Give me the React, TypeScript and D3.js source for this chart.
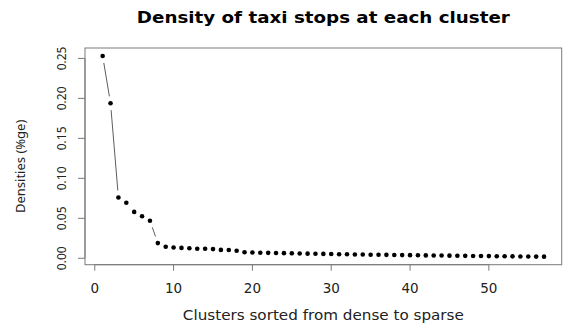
import React from 'react';
import { scaleLinear, extent } from 'd3';

// densities per cluster, sorted dense -> sparse
const densities = [
  0.253, 0.194, 0.076, 0.0695, 0.058, 0.0525, 0.047, 0.019, 0.0145, 0.0135,
  0.013, 0.0125, 0.012, 0.012, 0.0115, 0.0105, 0.0103, 0.0095, 0.0075, 0.0072,
  0.007, 0.0068, 0.0066, 0.0064, 0.0062, 0.006, 0.0058, 0.0056, 0.0055, 0.0053,
  0.0051, 0.005, 0.0048, 0.0047, 0.0045, 0.0044, 0.0043, 0.0041, 0.004, 0.0039,
  0.0037, 0.0036, 0.0035, 0.0034, 0.0033, 0.0031, 0.003, 0.0029, 0.0028, 0.0027,
  0.0026, 0.0025, 0.0024, 0.0023, 0.0022, 0.0021, 0.002,
];
const clusters = densities.map((_, i) => i + 1);
const xTicks = [0, 10, 20, 30, 40, 50];
const yTicks = [0, 0.05, 0.1, 0.15, 0.2, 0.25];

const W = 567;
const H = 325;
const left = 85, right = 561.7, top = 48, bottom = 264.7;

// R style 4% axis extension
const pad = (e: [number, number]) => {
  const d = (e[1] - e[0]) * 0.04;
  return [e[0] - d, e[1] + d];
};

export default function App() {
  const x = scaleLinear().domain(pad(extent(clusters) as [number, number])).range([left, right]);
  const y = scaleLinear().domain(pad(extent(densities) as [number, number])).range([bottom, top]);

  const pts = densities.map((d, i) => [x(clusters[i]), y(d)]);
  const gap = 7;
  const segs: number[][] = [];
  for (let i = 1; i < pts.length; i++) {
    const [x1, y1] = pts[i - 1];
    const [x2, y2] = pts[i];
    const dist = Math.hypot(x2 - x1, y2 - y1);
    if (dist <= 2 * gap) continue;
    const ux = (x2 - x1) / dist, uy = (y2 - y1) / dist;
    segs.push([x1 + ux * gap, y1 + uy * gap, x2 - ux * gap, y2 - uy * gap]);
  }

  const grey = '#7a7a7a';
  const font = 'DejaVu Sans, sans-serif';
  const yFont = 'Noto Sans, sans-serif';

  return (
    <svg width={W} height={H} style={{ position: 'absolute', left: 0, top: 0, background: '#fff' }}>
      <text x={(left + right) / 2} y={23} textAnchor="middle" fontFamily={font}
        fontWeight="bold" fontSize={15.5} fill="#000" textLength={373} lengthAdjust="spacingAndGlyphs">
        Density of taxi stops at each cluster
      </text>

      <rect x={left} y={top} width={right - left} height={bottom - top}
        fill="none" stroke={grey} strokeWidth={1} />

      {/* x axis */}
      <line x1={x(0)} x2={x(50)} y1={bottom} y2={bottom} stroke={grey} />
      {xTicks.map(t => (
        <g key={t}>
          <line x1={x(t)} x2={x(t)} y1={bottom} y2={bottom + 6} stroke={grey} />
          <text x={x(t)} y={293} textAnchor="middle" fontFamily={font} fontSize={13.5} fill="#222">{t}</text>
        </g>
      ))}
      <text x={(left + right) / 2} y={320} textAnchor="middle" fontFamily={font} fontSize={13.5} fill="#222"
        textLength={281} lengthAdjust="spacingAndGlyphs">
        Clusters sorted from dense to sparse
      </text>

      {/* y axis */}
      <line x1={left} x2={left} y1={y(0)} y2={y(0.25)} stroke={grey} />
      {yTicks.map(t => (
        <g key={t}>
          <line x1={left - 7} x2={left} y1={y(t)} y2={y(t)} stroke={grey} />
          <text transform={`translate(66,${y(t)}) rotate(-90)`} textAnchor="middle"
            fontFamily={yFont} fontSize={12} fill="#222">
            {t.toFixed(2)}
          </text>
        </g>
      ))}
      <text transform={`translate(25,${(top + bottom) / 2 + 10}) rotate(-90)`} textAnchor="middle"
        fontFamily={yFont} fontSize={13} fill="#222">
        Densities (%ge)
      </text>

      {segs.map((s, i) => (
        <line key={i} x1={s[0]} y1={s[1]} x2={s[2]} y2={s[3]} stroke="#333" strokeWidth={0.8} />
      ))}
      {pts.map((p, i) => (
        <circle key={i} cx={p[0]} cy={p[1]} r={2.3} fill="#000" />
      ))}
    </svg>
  );
}
